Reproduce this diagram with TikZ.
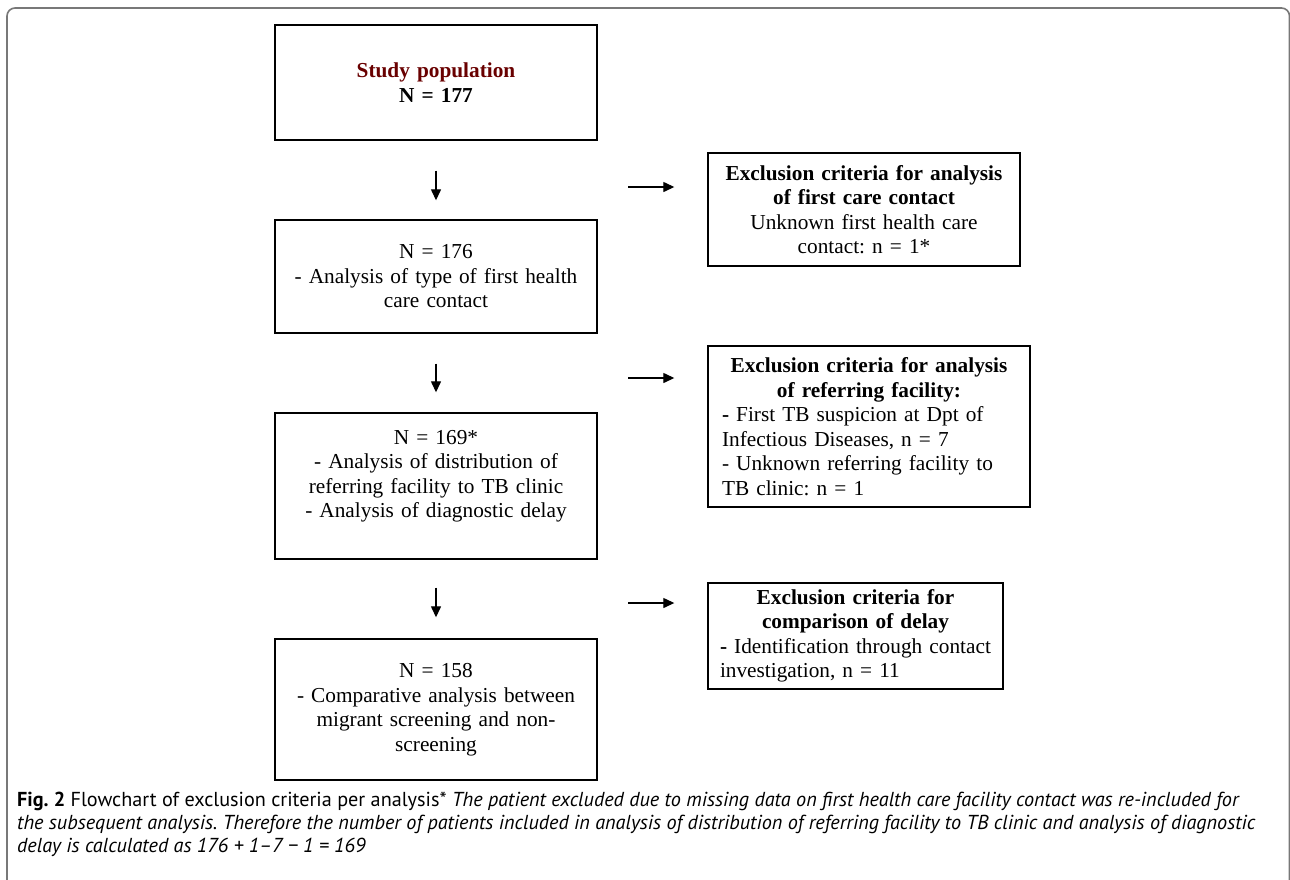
\documentclass[tikz,border=0pt]{standalone}
\usepackage{fontspec}
\setmainfont{Liberation Serif}
\newfontfamily\capfont{PT Sans}
\usetikzlibrary{arrows.meta}
\setlength\parindent{0pt}
\frenchspacing
\definecolor{studyred}{RGB}{105,0,0}
\definecolor{framegray}{RGB}{120,120,120}
\begin{document}
\begin{tikzpicture}[x=1pt,y=-1pt,
  box/.style={draw=black, line width=1.4pt, rectangle, inner sep=0pt, font=\frenchspacing\fontsize{21.3}{24.5}\selectfont},
  arr/.style={line width=1.3pt, -{Triangle[length=11pt,width=10pt]}},
  captext/.style={anchor=base west, inner sep=0pt, font=\capfont\frenchspacing\fontsize{20.2}{23}\selectfont}
]
\useasboundingbox (0,0) rectangle (1290,879);
\fill[white] (0,0) rectangle (1290,879);
\draw[framegray, line width=1.6pt, rounded corners=8pt] (7,890) -- (7,8) -- (1289.5,8) -- (1289.5,890);

\node[box, minimum width=322, minimum height=115, text width=300, align=center] (b1) at (436,82.5)
  {\textbf{\textcolor{studyred}{Study population}}\\\textbf{N = 177}};
\node[box, minimum width=322, minimum height=113, text width=300, align=center] (b2) at (436,276.5)
  {N = 176\\- Analysis of type of first health\\care contact};
\node[box, minimum width=322, minimum height=146, text width=300, align=center] (b3) at (436,486)
  {N = 169*\\- Analysis of distribution of\\referring facility to TB clinic\\- Analysis of diagnostic delay\\\mbox{}};
\node[box, minimum width=322, minimum height=141, text width=300, align=center] (b4) at (436,709.5)
  {N = 158\\- Comparative analysis between\\migrant screening and non-\\screening};

\node[box, minimum width=312, minimum height=113, text width=296, align=center] (e1) at (864,209.5)
  {\textbf{Exclusion criteria for analysis}\\\textbf{of first care contact}\\Unknown first health care\\contact: n = 1*};
\node[box, minimum width=322, minimum height=161, text width=294] (e2) at (869,426.5)
  {{\centering\textbf{Exclusion criteria for analysis}\\\textbf{of referring facility:}\par}\raggedright
   \textbf{-} First TB suspicion at Dpt of\\Infectious Diseases, n = 7\\- Unknown referring facility to\\TB clinic: n = 1};
\node[box, minimum width=295, minimum height=106, text width=271] (e3) at (855.5,636)
  {{\centering\textbf{Exclusion criteria for}\\\textbf{comparison of delay}\par}\raggedright
   \textbf{-} Identification through contact\\investigation, n = 11};

\draw[arr, shorten <=30pt, shorten >=19pt] (b1.south) -- (b2.north);
\draw[arr, shorten <=30pt, shorten >=20pt] (b2.south) -- (b3.north);
\draw[arr, shorten <=28pt, shorten >=21pt] (b3.south) -- (b4.north);

\coordinate (h1) at (628,187);
\coordinate (h2) at (628,378);
\coordinate (h3) at (628,603);
\draw[arr, shorten >=33pt] (h1) -- (h1 -| e1.west);
\draw[arr, shorten >=33pt] (h2) -- (h2 -| e2.west);
\draw[arr, shorten >=33pt] (h3) -- (h3 -| e3.west);

\node[captext] (c1) at (17,806) {\textbf{Fig. 2} Flowchart of exclusion criteria per analysis* \textit{The patient excluded due to missing data on first health care facility contact was re-included for}};
\node[captext] (c2) at (17,829) {\textit{the subsequent analysis. Therefore the number of patients included in analysis of distribution of referring facility to TB clinic and analysis of diagnostic}};
\node[captext] (c3) at (17,852) {\textit{delay is calculated as 176 + 1–7 − 1 = 169}};
\end{tikzpicture}
\end{document}
